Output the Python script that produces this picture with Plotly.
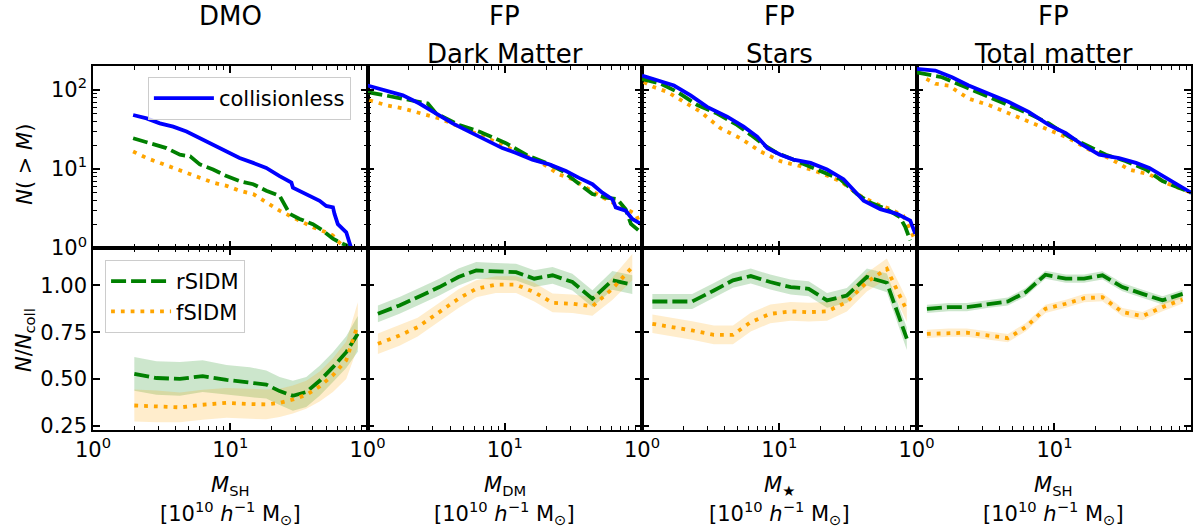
import plotly.graph_objects as go
from plotly.subplots import make_subplots

# =============================================================================
# data
# =============================================================================

# --- DMO, cumulative counts
dmo_coll_m = [1.96, 2.46, 3.07, 3.84, 4.8, 6.0, 7.5, 9.4, 11.7, 14.7, 18.3, 22.9, 27.9, 28.6, 35.8, 44.8, 50, 56, 57.5, 60.8, 70, 76]
dmo_coll_n = [47.9, 43.4, 37.6, 34.2, 29.6, 24.4, 20.2, 16.6, 13.7, 11.9, 10.3, 8.1, 6.7, 5.8, 4.8, 3.95, 3.4, 3.26, 2.7, 2.0, 1.58, 1.0]
dmo_rsidm_m = [1.96, 2.6, 3.43, 4.3, 5.1, 6.0, 7.5, 9.4, 11.7, 14.7, 18.3, 22.9, 24.9, 27.1, 32, 40, 47.3, 56, 66, 78]
dmo_rsidm_n = [24.4, 21.1, 18.3, 15.1, 14.4, 11.4, 9.8, 8.1, 7.0, 6.4, 5.3, 4.56, 3.6, 2.7, 2.33, 2.0, 1.66, 1.31, 1.13, 1.0]
dmo_fsidm_m = [1.96, 2.46, 3.07, 3.84, 4.8, 6.0, 7.5, 9.4, 11.7, 14.7, 18.3, 22.9, 27.1, 32, 40, 50, 56, 59.5, 70]
dmo_fsidm_n = [16.6, 13.7, 11.9, 10.3, 8.9, 7.7, 6.7, 6.1, 5.3, 4.8, 3.76, 2.96, 2.56, 2.22, 1.83, 1.58, 1.44, 1.25, 1.0]

# --- FP dark matter
dm_coll_m = [1.0, 1.37, 1.81, 2.39, 3.16, 4.17, 5.5, 7.3, 9.6, 12.1, 15.9, 21.1, 27.9, 34.8, 43.5, 51.4, 60.8, 64.4, 76, 85, 98]
dm_coll_n = [113, 98, 85, 67, 50, 37.6, 29.6, 23.3, 18.3, 15.9, 13.1, 11.4, 9.4, 7.7, 6.4, 5.0, 4.14, 3.26, 2.96, 2.33, 2.02]
dm_rsidm_m = [1.0, 1.37, 2.75, 3.16, 4.67, 6.5, 10.2, 14.3, 20, 26.3, 34.8, 43.5, 54.5, 66, 76, 83, 98]
dm_rsidm_n = [93.6, 85, 67, 50, 35.9, 29.6, 21.1, 15.1, 11.9, 9.4, 6.4, 4.8, 4.34, 4.14, 3.1, 2.02, 1.58]
dm_fsidm_m = [1.03, 1.37, 1.81, 2.53, 3.34, 4.67, 6.2, 9.1, 12.7, 17.8, 24.9, 31.1, 41.2, 54.5, 72, 90, 98]
dm_fsidm_n = [73.7, 63.8, 58, 50, 43.4, 34.2, 28.2, 21.1, 15.9, 12.5, 8.5, 7.4, 5.5, 4.14, 3.26, 2.7, 1.92]

# --- FP stars
st_coll_m = [1.0, 1.29, 1.71, 2.26, 2.98, 4.17, 5.5, 6.9, 8.2, 10.2, 12.7, 16.9, 22.3, 29.4, 34.8, 41.2, 54.5, 72, 90, 98]
st_coll_n = [151, 131, 113, 85, 60.8, 45.6, 34.2, 25.6, 18.3, 15.1, 13.1, 11.9, 9.8, 7.4, 5.5, 3.95, 3.1, 2.7, 2.22, 1.51]
st_rsidm_m = [1.0, 1.37, 1.81, 2.53, 3.53, 4.93, 6.2, 7.7, 9.6, 14.3, 18.8, 27.9, 36.8, 46, 60.8, 76, 83, 90]
st_rsidm_n = [137, 119, 94, 64, 50, 35.9, 26.9, 20.2, 15.9, 11.9, 9.8, 7.4, 4.8, 3.76, 3.1, 2.44, 1.83, 1.25]
st_fsidm_m = [1.03, 1.22, 1.53, 2.02, 2.67, 3.73, 5.2, 7.3, 10.2, 14.3, 20, 27.9, 39, 51.4, 64.4, 80, 98]
st_fsidm_n = [125, 108, 94, 70, 52.6, 32.6, 24.4, 16.6, 12.5, 10.8, 8.9, 7.0, 4.56, 3.59, 3.1, 2.56, 1.25]

# --- FP total matter
tot_coll_m = [1.0, 1.37, 1.81, 2.39, 3.34, 4.67, 6.5, 9.1, 12.1, 15.9, 21.1, 29.4, 39, 48.7, 64.4, 80, 98]
tot_coll_n = [183, 175, 144, 113, 89, 70, 52.6, 35.9, 28.2, 20.2, 15.1, 13.7, 11.9, 10.3, 7.7, 6.1, 5.0]
tot_rsidm_m = [1.0, 1.53, 2.26, 3.34, 4.67, 6.5, 9.1, 12.7, 17.8, 23.6, 33, 46, 60.8, 80, 98]
tot_rsidm_n = [166, 144, 108, 81, 64, 50, 37.6, 25.6, 19.2, 15.1, 12.5, 9.8, 7.0, 5.8, 5.0]
tot_fsidm_m = [1.18, 1.37, 1.71, 2.39, 3.34, 4.67, 6.5, 9.1, 12.7, 17.8, 24.9, 34.8, 48.7, 68, 98]
tot_fsidm_n = [137, 119, 113, 77, 64, 50, 39.5, 31, 24.4, 17.5, 13.7, 9.8, 8.5, 6.4, 5.0]

# --- ratios N/N_coll (bin centres)
ratio_m_dmo = [2.0, 2.9, 4.3, 6.3, 9.4, 13.9, 18.3, 22.9, 28.6, 35.8, 44.8, 56, 70, 85]
ratio_m = [1.19, 1.71, 2.32, 3.34, 4.6, 6.2, 8.6, 12.1, 16.4, 22.3, 31.1, 43.5, 60.8, 85]

dmo_r = [0.527, 0.505, 0.50, 0.515, 0.495, 0.483, 0.47, 0.435, 0.41, 0.43, 0.49, 0.563, 0.643, 0.741]
dmo_r_err = [0.09, 0.09, 0.09, 0.085, 0.08, 0.08, 0.075, 0.075, 0.08, 0.08, 0.08, 0.08, 0.085, 0.095]
dmo_f = [0.358, 0.353, 0.348, 0.362, 0.372, 0.366, 0.364, 0.372, 0.39, 0.415, 0.46, 0.52, 0.60, 0.79]
dmo_f_err = [0.085, 0.085, 0.08, 0.08, 0.08, 0.08, 0.08, 0.075, 0.075, 0.075, 0.08, 0.09, 0.1, 0.12]

dm_r = [0.848, 0.893, 0.937, 0.991, 1.045, 1.08, 1.075, 1.071, 1.036, 1.054, 1.018, 0.929, 1.027, 1.004]
dm_r_err = [0.045, 0.045, 0.045, 0.045, 0.045, 0.045, 0.045, 0.045, 0.045, 0.045, 0.045, 0.045, 0.05, 0.05]
dm_f = [0.688, 0.732, 0.777, 0.857, 0.929, 0.982, 1.004, 1.004, 0.964, 0.907, 0.902, 0.888, 0.982, 1.098]
dm_f_err = [0.055, 0.055, 0.05, 0.05, 0.05, 0.045, 0.045, 0.045, 0.05, 0.05, 0.05, 0.05, 0.06, 0.07]

st_r = [0.914, 0.914, 0.914, 0.973, 1.027, 1.05, 1.018, 0.991, 0.982, 0.92, 0.946, 1.045, 1.014, 0.715]
st_r_err = [0.04, 0.04, 0.04, 0.04, 0.04, 0.04, 0.04, 0.04, 0.04, 0.04, 0.04, 0.045, 0.05, 0.06]
st_f = [0.795, 0.777, 0.759, 0.736, 0.736, 0.804, 0.848, 0.861, 0.857, 0.861, 0.911, 1.018, 1.089, 0.866]
st_f_err = [0.05, 0.05, 0.05, 0.05, 0.05, 0.05, 0.05, 0.05, 0.05, 0.05, 0.05, 0.05, 0.055, 0.06]

tot_r = [0.875, 0.884, 0.884, 0.902, 0.914, 0.964, 1.057, 1.036, 1.036, 1.054, 0.991, 0.955, 0.92, 0.955]
tot_r_err = [0.022, 0.022, 0.022, 0.022, 0.022, 0.022, 0.022, 0.022, 0.022, 0.022, 0.022, 0.022, 0.022, 0.022]
tot_f = [0.741, 0.747, 0.747, 0.732, 0.718, 0.777, 0.875, 0.902, 0.932, 0.937, 0.857, 0.836, 0.884, 0.925]
tot_f_err = [0.022, 0.022, 0.022, 0.022, 0.022, 0.022, 0.022, 0.022, 0.022, 0.022, 0.022, 0.022, 0.022, 0.022]

titles_top = ["DMO", "FP", "FP", "FP"]
titles_sub = ["", "Dark Matter", "Stars", "Total matter"]
mass_labels = ["<i>M</i><sub>SH</sub>", "<i>M</i><sub>DM</sub>", "<i>M</i><sub>★</sub>", "<i>M</i><sub>SH</sub>"]
unit_label = "[10<sup>10</sup> <i>h</i><sup>−1</sup> M<sub>⊙</sub>]"

# =============================================================================
# figure
# =============================================================================

FONT = "DejaVu Sans"
BLUE, GREEN, ORANGE = "#0000ff", "#008000", "#ffa500"
GREEN_BAND, ORANGE_BAND = "rgba(0,128,0,0.2)", "rgba(255,165,0,0.2)"
LW = 3.8
DASH = "15px,5px"
DOT = "3.8px,6px"

fig = make_subplots(rows=2, cols=4, horizontal_spacing=0, vertical_spacing=0)

top = [(dmo_coll_m, dmo_coll_n, dmo_rsidm_m, dmo_rsidm_n, dmo_fsidm_m, dmo_fsidm_n),
       (dm_coll_m, dm_coll_n, dm_rsidm_m, dm_rsidm_n, dm_fsidm_m, dm_fsidm_n),
       (st_coll_m, st_coll_n, st_rsidm_m, st_rsidm_n, st_fsidm_m, st_fsidm_n),
       (tot_coll_m, tot_coll_n, tot_rsidm_m, tot_rsidm_n, tot_fsidm_m, tot_fsidm_n)]

bottom = [(ratio_m_dmo, dmo_r, dmo_r_err, dmo_f, dmo_f_err),
          (ratio_m, dm_r, dm_r_err, dm_f, dm_f_err),
          (ratio_m, st_r, st_r_err, st_f, st_f_err),
          (ratio_m, tot_r, tot_r_err, tot_f, tot_f_err)]

for i in range(4):
    col = i + 1
    cm, cn, rm, rn, fm, fn = top[i]
    fig.add_trace(go.Scatter(x=fm, y=fn, mode="lines", line=dict(color=ORANGE, width=LW, dash=DOT),
                             showlegend=False), row=1, col=col)
    fig.add_trace(go.Scatter(x=rm, y=rn, mode="lines", line=dict(color=GREEN, width=LW, dash=DASH),
                             showlegend=False), row=1, col=col)
    fig.add_trace(go.Scatter(x=cm, y=cn, mode="lines", line=dict(color=BLUE, width=LW),
                             name="collisionless", showlegend=(i == 0), legend="legend"), row=1, col=col)

    xm, r, re, f, fe = bottom[i]
    # shaded bands
    for val, err, band in [(r, re, GREEN_BAND), (f, fe, ORANGE_BAND)]:
        up = [v + e for v, e in zip(val, err)]
        lo = [v - e for v, e in zip(val, err)]
        fig.add_trace(go.Scatter(x=xm + xm[::-1], y=up + lo[::-1], mode="lines", fill="toself",
                                 fillcolor=band, line=dict(width=0), hoverinfo="skip",
                                 showlegend=False), row=2, col=col)
    fig.add_trace(go.Scatter(x=xm, y=r, mode="lines", line=dict(color=GREEN, width=LW, dash=DASH),
                             name="rSIDM", showlegend=(i == 0), legend="legend2"), row=2, col=col)
    fig.add_trace(go.Scatter(x=xm, y=f, mode="lines", line=dict(color=ORANGE, width=LW, dash=DOT),
                             name="fSIDM", showlegend=(i == 0), legend="legend2"), row=2, col=col)

axis_common = dict(showline=True, linecolor="black", linewidth=1.5, mirror="allticks",
                   ticks="inside", ticklen=7, tickwidth=1.5, tickcolor="black",
                   showgrid=False, zeroline=False, tickfont=dict(size=21, color="black"))
minor_log = dict(ticks="inside", ticklen=4, tickwidth=1, tickcolor="black",
                 tickvals=[2, 3, 4, 5, 6, 7, 8, 9, 20, 30, 40, 50, 60, 70, 80, 90, 200])
dec_text = ["10<sup>0</sup>", "10<sup>1</sup>", "10<sup>2</sup>"]

for i in range(4):
    xr = [0, 2] if i < 3 else [0, 1.99]
    # top row
    fig.update_xaxes(axis_common, type="log", range=xr, tickvals=[1, 10, 100], ticktext=dec_text,
                     showticklabels=False, minor=minor_log, row=1, col=i + 1)
    fig.update_yaxes(axis_common, type="log", range=[0, 2.3], tickvals=[1, 10, 100], ticktext=dec_text,
                     showticklabels=(i == 0), minor=minor_log, row=1, col=i + 1)
    # bottom row
    fig.update_xaxes(axis_common, type="log", range=xr, tickvals=[1, 10],
                     ticktext=dec_text[:2], showticklabels=True, minor=minor_log, row=2, col=i + 1)
    fig.update_yaxes(axis_common, range=[0.227, 1.2], tickvals=[0.25, 0.5, 0.75, 1.0],
                     ticktext=["0.25", "0.50", "0.75", "1.00"], showticklabels=(i == 0),
                     row=2, col=i + 1)

annotations = []
for i in range(4):
    xc = (i + 0.5) / 4
    annotations.append(dict(text=titles_top[i], x=xc, y=1.137, xref="paper", yref="paper",
                            xanchor="center", yanchor="middle", showarrow=False, font=dict(size=26)))
    if titles_sub[i]:
        annotations.append(dict(text=titles_sub[i], x=xc, y=1.033, xref="paper", yref="paper",
                                xanchor="center", yanchor="middle", showarrow=False, font=dict(size=26)))
    annotations.append(dict(text=mass_labels[i], x=xc, y=-0.155, xref="paper", yref="paper",
                            xanchor="center", yanchor="middle", showarrow=False, font=dict(size=21)))
    annotations.append(dict(text=unit_label, x=xc, y=-0.228, xref="paper", yref="paper",
                            xanchor="center", yanchor="middle", showarrow=False, font=dict(size=21)))

annotations.append(dict(text="<i>N</i>( &gt; <i>M</i>)", x=-0.062, y=0.731, xref="paper", yref="paper",
                        xanchor="center", yanchor="middle",
                        showarrow=False, textangle=-90, font=dict(size=21)))
annotations.append(dict(text="<i>N</i>/<i>N</i><sub>coll</sub>", x=-0.062, y=0.247, xref="paper",
                        yref="paper", xanchor="center", yanchor="middle",
                        showarrow=False, textangle=-90, font=dict(size=21)))

legend_style = dict(bgcolor="rgba(255,255,255,0.8)", bordercolor="#cccccc", borderwidth=1,
                    font=dict(size=21, color="black"), xanchor="left", yanchor="top", itemwidth=60)

fig.update_layout(
    width=1200, height=528,
    margin=dict(l=93, r=7, t=66, b=98),
    paper_bgcolor="white", plot_bgcolor="white",
    font=dict(family=FONT, color="black"),
    annotations=annotations,
    legend=dict(legend_style, x=0.05, y=0.97),
    legend2=dict(legend_style, x=0.011, y=0.467),
)

# page body has a default margin; drop it so the figure sits at the window origin
fig.write_html("out.html", config={"displayModeBar": False},
               post_script="document.body.style.margin='0';")
